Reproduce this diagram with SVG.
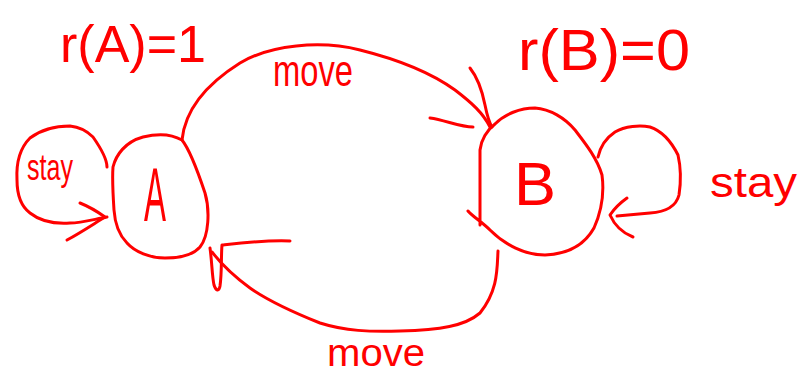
<svg xmlns="http://www.w3.org/2000/svg" width="799" height="376" viewBox="0 0 799 376">
<style>
.s{fill:none;stroke:#f00;stroke-width:3;stroke-linecap:round;stroke-linejoin:round}
.t{fill:#f00;font-family:"Liberation Sans",Arial,sans-serif}
</style>
<rect width="799" height="376" fill="#fff"/>
<g id="title-a"><text class="t" x="60" y="62" font-size="52" textLength="146" lengthAdjust="spacingAndGlyphs">r(A)=1</text></g>
<g id="title-b"><text class="t" x="518" y="70" font-size="58" textLength="172" lengthAdjust="spacingAndGlyphs">r(B)=0</text></g>
<g id="node-a">
<path class="s" d="M113,167 C116,155 125,142 143,137 C155,134 170,133 182,140 C190,150 198,172 205,193 C210,210 209,236 200,247 C193,255 180,258 165,258 C150,258 135,252 127,243 C119,235 115,225 114,210 C113,195 112,180 113,167 Z"/>
<text class="t" x="144" y="221" font-size="76" textLength="22" lengthAdjust="spacingAndGlyphs">A</text>
</g>
<g id="node-b">
<path class="s" d="M480,225 L480,150 C481,140 487,130 495,124 C505,114 520,108 535,108 C550,109 565,118 575,130 C585,143 597,158 602,175 C604,190 602,210 594,228 C585,244 570,254 545,255 C525,255 505,245 490,230 C482,222 472,216 468,211"/>
<text class="t" x="514" y="205" font-size="62" textLength="42" lengthAdjust="spacingAndGlyphs">B</text>
</g>
<g id="connectors">
<path class="s" d="M182,140 C185,110 205,85 240,63 C270,45 320,40 360,50 C400,60 430,72 455,90 C472,103 483,113 490,127"/>
<path class="s" d="M430,118 C445,120 460,127 473,127 M470,68 C478,78 482,90 485,105 C487,115 489,122 492,127"/>
<path class="s" d="M498,251 C497,270 498,290 480,313 C465,326 440,330 400,331 C370,332 345,331 320,323 C295,313 270,302 250,288 C235,277 222,265 212,252"/>
<path class="s" d="M210,248 C212,262 212,276 214,285 C216,291 219,292 220,286 C222,272 221,256 222,245 C240,243 265,240 290,241"/>
<path class="s" d="M107,167 C107,158 100,147 93,137 C87,131 80,127 70,126 C58,126 42,129 30,138 C20,148 16,162 17,180 C17,195 22,207 30,213 C40,221 55,224 70,223 C82,223 95,219 107,217"/>
<path class="s" d="M80,203 C90,207 98,212 105,217 C92,225 80,233 67,240"/>
<path class="s" d="M598,157 C600,148 606,138 615,132 C625,126 640,125 650,127 C662,131 672,143 678,155 C681,168 681,182 679,195 C676,207 665,212 650,213 C638,214 627,215 617,216"/>
<path class="s" d="M627,198 C620,203 614,209 610,215 C614,224 620,232 633,237"/>
</g>
<g id="labels">
<text class="t" x="273" y="86" font-size="44" textLength="80" lengthAdjust="spacingAndGlyphs">move</text>
<text class="t" x="327" y="366" font-size="38" textLength="98" lengthAdjust="spacingAndGlyphs">move</text>
<text class="t" x="27" y="180" font-size="36" textLength="46" lengthAdjust="spacingAndGlyphs">stay</text>
<text class="t" x="710" y="197" font-size="42" textLength="87" lengthAdjust="spacingAndGlyphs">stay</text>
</g>
</svg>
